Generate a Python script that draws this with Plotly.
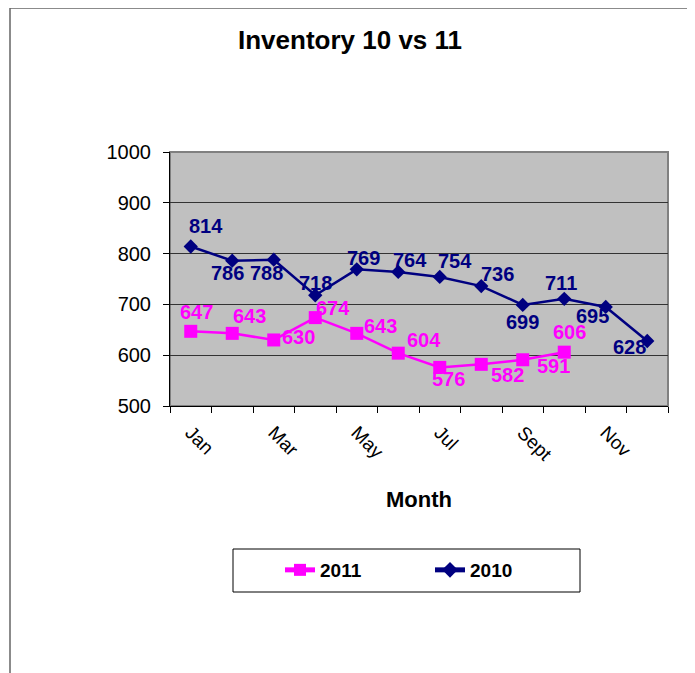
import plotly.graph_objects as go

months = ["Jan", "Feb", "Mar", "Apr", "May", "Jun", "Jul", "Aug", "Sept", "Oct", "Nov", "Dec"]
tick_labels = ["Jan", "", "Mar", "", "May", "", "Jul", "", "Sept", "", "Nov", ""]
inv_2010 = [814, 786, 788, 718, 769, 764, 754, 736, 699, 711, 695, 628]
inv_2011 = [647, 643, 630, 674, 643, 604, 576, 582, 591, 606]
y_ticks = [500, 600, 700, 800, 900, 1000]

# label offsets (style) in px: (dx, dy) with dy positive = up
off_2010 = [(15, 20), (-5, -12), (-7, -13), (0, 12), (7, 11), (12, 12), (15, 16), (16, 12), (0, -17), (-3, 16), (-13, -9), (-18, -6)]
off_2011 = [(6, 19), (17, 17), (25, 3), (18, 10), (24, 7), (26, 13), (9, -12), (26, -11), (31, -6), (5, 20)]

NAVY = "#000080"
MAG = "#FF00FF"
FONT = "Liberation Sans, Arial, sans-serif"

# page body has an 8px margin: work in page px and convert
OFF = 8
W, H = 695 - OFF, 673 - OFF
L, T = 170 - OFF, 152 - OFF
pw, ph = 498, 254
R, B = W - L - pw, H - T - ph

def px2paper_x(px):
    return (px - OFF - L) / pw

def px2paper_y(py):
    return (T + ph - (py - OFF)) / ph

fig = go.Figure()
fig.add_trace(go.Scatter(x=months[:len(inv_2011)], y=inv_2011, name="2011", mode="lines+markers",
                         line=dict(color=MAG, width=2.5),
                         marker=dict(symbol="square", size=13, color=MAG)))
fig.add_trace(go.Scatter(x=months, y=inv_2010, name="2010", mode="lines+markers",
                         line=dict(color=NAVY, width=2.5),
                         marker=dict(symbol="diamond", size=11, color=NAVY)))

annotations = []
for m, v, (dx, dy) in zip(months, inv_2010, off_2010):
    annotations.append(dict(x=m, y=v, xref="x", yref="y", text=str(v), showarrow=False,
                            xshift=dx, yshift=dy,
                            font=dict(family=FONT, size=20, color=NAVY, weight="bold")))
for m, v, (dx, dy) in zip(months, inv_2011, off_2011):
    annotations.append(dict(x=m, y=v, xref="x", yref="y", text=str(v), showarrow=False,
                            xshift=dx, yshift=dy,
                            font=dict(family=FONT, size=20, color=MAG, weight="bold")))

shapes = [
    # outer chart frame
    dict(type="rect", xref="paper", yref="paper",
         x0=px2paper_x(10), x1=px2paper_x(692), y0=px2paper_y(700), y1=px2paper_y(8),
         line=dict(color="#666666", width=1.5), layer="below"),
    # plot area border
    dict(type="rect", xref="paper", yref="paper", x0=0, x1=1, y0=0, y1=1,
         line=dict(color="#808080", width=2), layer="between"),
    # legend box
    dict(type="rect", xref="paper", yref="paper",
         x0=px2paper_x(233), x1=px2paper_x(580), y0=px2paper_y(592), y1=px2paper_y(549),
         line=dict(color="#000000", width=1), layer="below"),
]

fig.update_layout(
    width=W, height=H,
    margin=dict(l=L, r=R, t=T, b=B),
    paper_bgcolor="white",
    plot_bgcolor="#C0C0C0",
    font=dict(family=FONT, color="black"),
    title=dict(text="Inventory 10 vs 11", x=(350 - OFF) / W, xref="container", xanchor="center",
               y=1 - (40 - OFF) / H, yref="container", yanchor="middle",
               font=dict(family=FONT, size=26, color="black", weight="bold")),
    xaxis=dict(type="category", categoryorder="array", categoryarray=months,
               range=[-0.5, len(months) - 0.5],
               tickvals=months, ticktext=tick_labels, tickangle=45,
               tickson="boundaries", ticks="outside", ticklen=6, tickcolor="black",
               showline=True, linecolor="black", linewidth=1,
               showgrid=False, zeroline=False, ticklabelstandoff=7,
               tickfont=dict(family=FONT, size=19, color="black"),
               title=dict(text="Month", font=dict(family=FONT, size=22, color="black", weight="bold"),
                          standoff=27)),
    yaxis=dict(range=[500, 1000], tickvals=y_ticks, ticks="outside", ticklen=6, tickcolor="black",
               showline=True, linecolor="black", linewidth=1,
               showgrid=True, gridcolor="#333333", gridwidth=1, zeroline=False,
               ticklabelstandoff=8,
               tickfont=dict(family=FONT, size=20, color="black")),
    showlegend=True,
    legend=dict(orientation="h", x=px2paper_x(280), y=px2paper_y(570), xanchor="left", yanchor="middle",
                bgcolor="rgba(0,0,0,0)", borderwidth=0,
                entrywidth=105, entrywidthmode="pixels",
                font=dict(family=FONT, size=19, color="black", weight="bold"),
                itemsizing="constant"),
    annotations=annotations,
    shapes=shapes,
)

fig.write_html("out.html")
